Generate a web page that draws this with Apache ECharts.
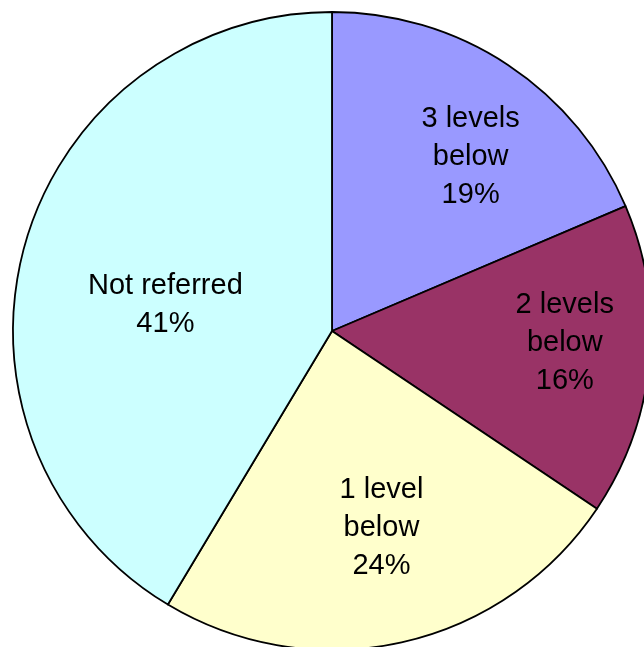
<!DOCTYPE html>
<html>
<head>
<meta charset="utf-8">
<script src="https://cdn.jsdelivr.net/npm/echarts@6/dist/echarts.min.js"></script>
<style>
  html, body { margin: 0; padding: 0; background: #fff; }
  #chart { width: 644px; height: 647px; }
</style>
</head>
<body>
<div id="chart"></div>
<script>
// slice data, clockwise from 12 o'clock (shares)
const names = ['3 levels\nbelow', '2 levels\nbelow', '1 level\nbelow', 'Not referred'];
const values = [18.6, 15.8, 24.2, 41.4];
const colors = ['#9999FF', '#993366', '#FFFFCC', '#CCFFFF'];
// nudge labels to where the original puts them
const labelOffsets = [[49, -38], [71, -3], [14, 38], [-10, 17]];

const chart = echarts.init(document.getElementById('chart'));

const option = {
  animation: false,
  series: [
    {
      type: 'pie',
      center: [332, 331],
      radius: 319,
      startAngle: 90,
      clockwise: true,
      percentPrecision: 0,
      avoidLabelOverlap: false,
      itemStyle: {
        borderColor: '#000',
        borderWidth: 1.8
      },
      label: {
        show: true,
        position: 'inside',
        formatter: '{b}\n{d}%',
        fontFamily: 'Liberation Sans, Arial, sans-serif',
        fontSize: 29,
        lineHeight: 38,
        color: '#000',
        align: 'center'
      },
      labelLine: { show: false },
      emphasis: { disabled: true },
      data: values.map((v, i) => ({
        name: names[i],
        value: v,
        itemStyle: { color: colors[i] },
        label: { offset: labelOffsets[i] }
      }))
    }
  ]
};

chart.setOption(option);
</script>
</body>
</html>
